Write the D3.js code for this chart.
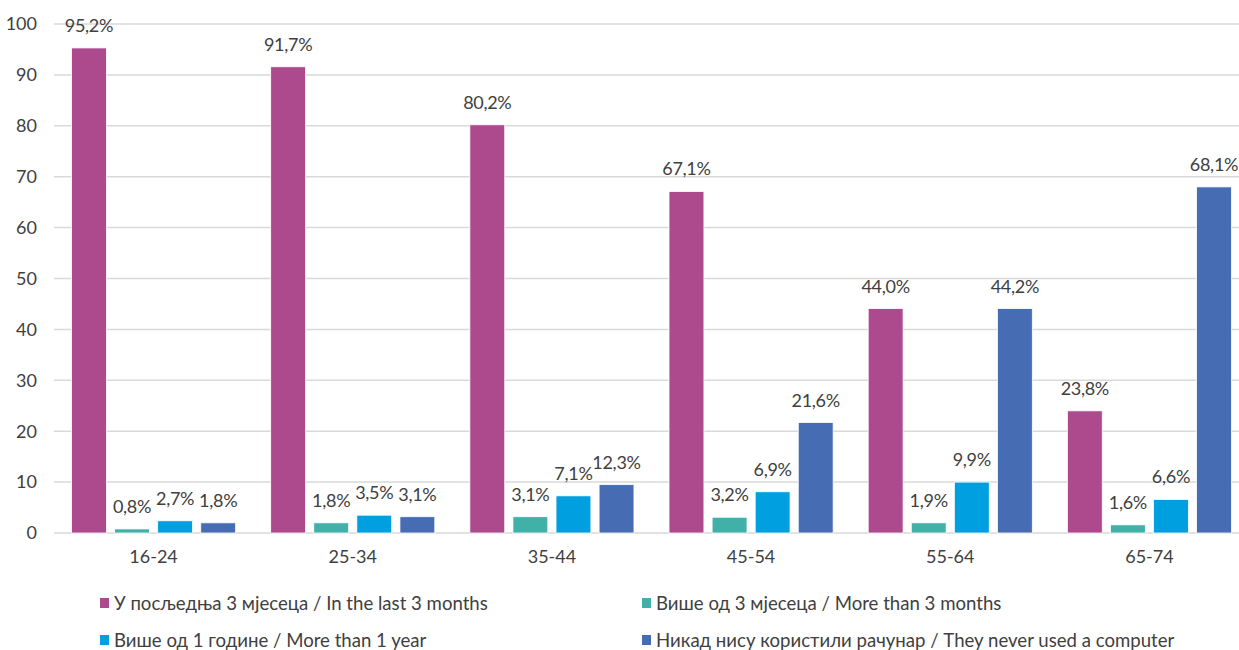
<!DOCTYPE html>
<html>
<head>
<meta charset="utf-8">
<script src="https://cdn.jsdelivr.net/npm/d3@7"></script>
<style>
  body { margin: 0; background: #fff; }
  text { font-family: Lato, "Open Sans", sans-serif; fill: #404040; }
</style>
</head>
<body>
<div id="chart"></div>
<script>
// age groups
const groups = ["16-24", "25-34", "35-44", "45-54", "55-64", "65-74"];

// series names (legend)
const seriesNames = [
  "У посљедња 3 мјесеца / In the last 3 months",
  "Више од 3 мјесеца / More than 3 months",
  "Више од 1 године / More than 1 year",
  "Никад нису користили рачунар / They never used a computer"
];
const colors = ["#ad4a8e", "#41b0a8", "#00a0e0", "#466db4"];

// bar heights as drawn in the picture
const last3m   = [95.3, 91.6, 80.2, 67.1, 44.1, 24.0];
const more3m   = [0.8, 2.0, 3.2, 3.1, 2.0, 1.6];
const more1y   = [2.4, 3.5, 7.3, 8.1, 10.0, 6.6];
const neverUsed = [2.0, 3.2, 9.5, 21.7, 44.1, 68.0];

// data labels as printed
const last3mLbl   = ["95,2%", "91,7%", "80,2%", "67,1%", "44,0%", "23,8%"];
const more3mLbl   = ["0,8%", "1,8%", "3,1%", "3,2%", "1,9%", "1,6%"];
const more1yLbl   = ["2,7%", "3,5%", "7,1%", "6,9%", "9,9%", "6,6%"];
const neverUsedLbl = ["1,8%", "3,1%", "12,3%", "21,6%", "44,2%", "68,1%"];

const yTicks = [0, 10, 20, 30, 40, 50, 60, 70, 80, 90, 100];

const series = [last3m, more3m, more1y, neverUsed];
const labels = [last3mLbl, more3mLbl, more1yLbl, neverUsedLbl];

const W = 1239, H = 650;
const margin = {top: 24, left: 54, bottom: 117};
const plotRight = 1249;

const svg = d3.select("#chart")
  .append("svg")
  .attr("width", W)
  .attr("height", H);

const x0 = d3.scaleBand()
  .domain(groups)
  .range([margin.left, plotRight])
  .paddingInner(0.176)
  .paddingOuter(0.088);

const x1 = d3.scaleBand()
  .domain(d3.range(series.length))
  .range([0, x0.bandwidth()])
  .paddingInner(0.19);

const y = d3.scaleLinear()
  .domain([0, 100])
  .range([H - margin.bottom, margin.top]);

// gridlines
svg.append("g")
  .selectAll("line")
  .data(yTicks)
  .enter()
  .append("line")
    .attr("x1", margin.left)
    .attr("x2", W)
    .attr("y1", d => y(d))
    .attr("y2", d => y(d))
    .attr("stroke", "#d9d9d9")
    .attr("stroke-width", 1.5);

// y tick labels
svg.append("g")
  .selectAll("text")
  .data(yTicks)
  .enter()
  .append("text")
    .attr("x", 37)
    .attr("y", d => y(d))
    .attr("dy", "0.35em")
    .attr("text-anchor", "end")
    .style("font-size", "18px")
    .text(d => d);

// bars
const g = svg.append("g")
  .selectAll("g")
  .data(groups)
  .enter()
  .append("g")
    .attr("transform", d => "translate(" + x0(d) + ",0)");

g.selectAll("rect")
  .data((d, gi) => series.map((s, si) => ({si: si, v: s[gi], lbl: labels[si][gi]})))
  .enter()
  .append("rect")
    .attr("x", d => x1(d.si))
    .attr("y", d => y(d.v))
    .attr("width", x1.bandwidth())
    .attr("height", d => y(0) - y(d.v))
    .attr("fill", d => colors[d.si])
    .attr("stroke", "#fff")
    .attr("stroke-width", 0.8);

// value labels
g.selectAll("text")
  .data((d, gi) => series.map((s, si) => ({si: si, v: s[gi], lbl: labels[si][gi]})))
  .enter()
  .append("text")
    .attr("x", d => x1(d.si) + x1.bandwidth() / 2)
    .attr("y", d => y(d.v) - 16)
    .attr("text-anchor", "middle")
    .style("font-size", "18px")
    .style("letter-spacing", "-0.3px")
    .text(d => d.lbl);

// x axis labels
svg.append("g")
  .selectAll("text")
  .data(groups)
  .enter()
  .append("text")
    .attr("x", d => x0(d) + x0.bandwidth() / 2)
    .attr("y", 563)
    .attr("text-anchor", "middle")
    .style("font-size", "18px")
    .text(d => d);

// legend
const legendPos = [[100, 603], [642, 603], [100, 640], [642, 640]];
const leg = svg.append("g")
  .selectAll("g")
  .data(seriesNames)
  .enter()
  .append("g")
    .attr("transform", (d, i) => "translate(" + legendPos[i][0] + "," + legendPos[i][1] + ")");

leg.append("rect")
  .attr("x", 0)
  .attr("y", -5)
  .attr("width", 9)
  .attr("height", 10)
  .attr("fill", (d, i) => colors[i]);

leg.append("text")
  .attr("x", 14)
  .attr("y", 0)
  .attr("dy", "0.35em")
  .style("font-size", "18.6px")
  .text(d => d);
</script>
</body>
</html>
